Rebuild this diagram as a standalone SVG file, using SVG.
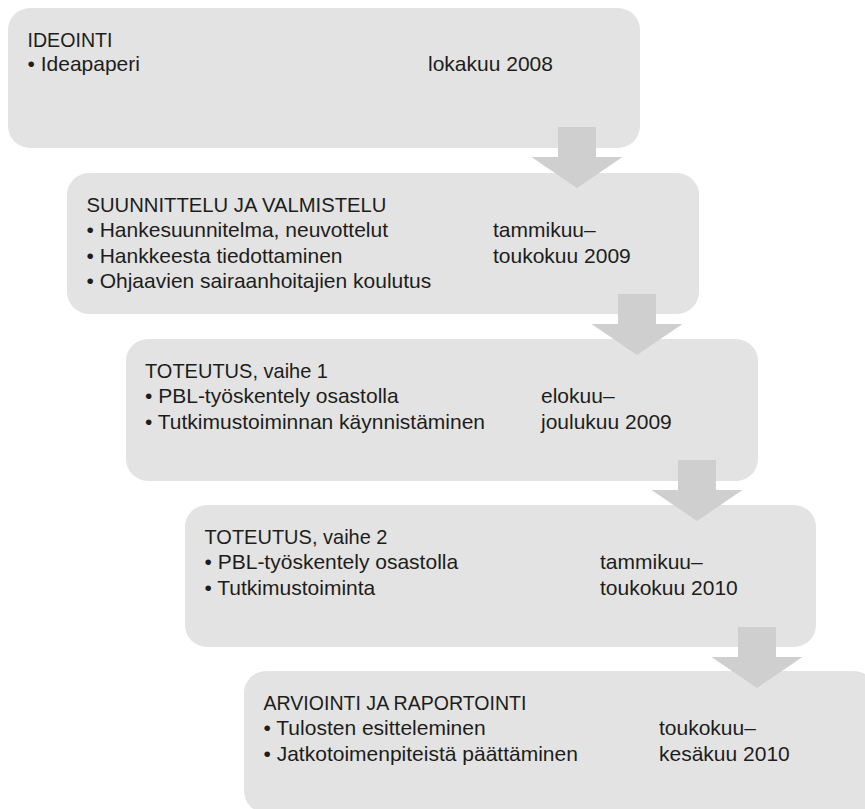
<svg xmlns="http://www.w3.org/2000/svg" width="865" height="809" viewBox="0 0 865 809">
<style>
.box{fill:#e3e3e3;}
.arr{fill:#cfcfcf;}
text{font-family:"Liberation Sans",Arial,sans-serif;font-size:21px;fill:#1d1d1b;}
</style>
<rect width="865" height="809" fill="#ffffff"/>
<g id="node-ideointi">
<rect class="box" x="8" y="8" width="632" height="140" rx="22" ry="22"/>
<text x="27.5" y="46.5" textLength="85" lengthAdjust="spacingAndGlyphs">IDEOINTI</text>
<text x="27.5" y="71">• Ideapaperi</text>
<text x="428" y="71">lokakuu 2008</text>
</g>
<g id="node-suunnittelu">
<rect class="box" x="67" y="173" width="632" height="141" rx="22" ry="22"/>
<text x="86.5" y="211.5" textLength="300" lengthAdjust="spacingAndGlyphs">SUUNNITTELU JA VALMISTELU</text>
<text x="86.5" y="237">• Hankesuunnitelma, neuvottelut</text>
<text x="86.5" y="262.5">• Hankkeesta tiedottaminen</text>
<text x="86.5" y="287.5">• Ohjaavien sairaanhoitajien koulutus</text>
<text x="493" y="237">tammikuu–</text>
<text x="493" y="262.5">toukokuu 2009</text>
</g>
<g id="node-toteutus1">
<rect class="box" x="126" y="339" width="632" height="142" rx="22" ry="22"/>
<text x="145" y="377.5" textLength="183" lengthAdjust="spacingAndGlyphs">TOTEUTUS, vaihe 1</text>
<text x="145" y="403">• PBL-työskentely osastolla</text>
<text x="145" y="428.5">• Tutkimustoiminnan käynnistäminen</text>
<text x="541" y="403">elokuu–</text>
<text x="541" y="428.5">joulukuu 2009</text>
</g>
<g id="node-toteutus2">
<rect class="box" x="185" y="505" width="631" height="142" rx="22" ry="22"/>
<text x="204.5" y="543.5" textLength="183" lengthAdjust="spacingAndGlyphs">TOTEUTUS, vaihe 2</text>
<text x="204.5" y="569">• PBL-työskentely osastolla</text>
<text x="204.5" y="594.5">• Tutkimustoiminta</text>
<text x="600" y="569">tammikuu–</text>
<text x="600" y="594.5">toukokuu 2010</text>
</g>
<g id="node-arviointi">
<rect class="box" x="244" y="671" width="632" height="142" rx="22" ry="22"/>
<text x="263.5" y="709.5" textLength="263" lengthAdjust="spacingAndGlyphs">ARVIOINTI JA RAPORTOINTI</text>
<text x="263.5" y="735">• Tulosten esitteleminen</text>
<text x="263.5" y="760.5">• Jatkotoimenpiteistä päättäminen</text>
<text x="659" y="735">toukokuu–</text>
<text x="659" y="760.5">kesäkuu 2010</text>
</g>
<g id="connectors">
<polygon class="arr" points="558,127 596,127 596,157 622.5,157 577,188 531.5,157 558,157"/>
<polygon class="arr" points="618,294 656,294 656,324 682.5,324 637,355 591.5,324 618,324"/>
<polygon class="arr" points="678,460 716,460 716,490 742.5,490 697,521 651.5,490 678,490"/>
<polygon class="arr" points="738,627 776,627 776,657 802.5,657 757,688 711.5,657 738,657"/>
</g>
</svg>
